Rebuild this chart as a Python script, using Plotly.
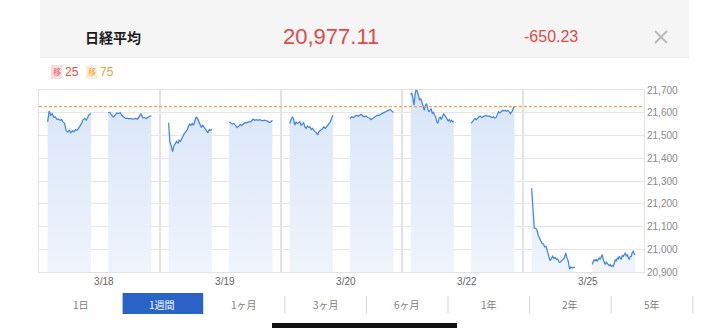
import plotly.graph_objects as go

# ---------------- data ----------------
day_labels = ["3/18", "3/19", "3/20", "3/22", "3/25"]

am_0318 = [21560, 21608, 21589, 21596, 21579, 21582, 21570, 21573, 21567, 21570, 21560, 21553, 21521, 21516, 21523,
           21512, 21521, 21516, 21526, 21523, 21531, 21541, 21553, 21570, 21575, 21567, 21582, 21592, 21596]
pm_0318 = [21601, 21602, 21589, 21582, 21589, 21599, 21596, 21601, 21588, 21579, 21575, 21576, 21573, 21575, 21572,
           21573, 21575, 21572, 21582, 21596, 21579, 21579, 21575, 21582, 21585, 21585]
am_0319 = [21556, 21470, 21455, 21429, 21454, 21465, 21474, 21465, 21480, 21474, 21487, 21502, 21509, 21516, 21523,
           21538, 21550, 21545, 21553, 21545, 21560, 21582, 21575, 21560, 21553, 21535, 21545, 21538, 21531, 21523,
           21512, 21526, 21523, 21526]
pm_0319 = [21560, 21553, 21550, 21553, 21545, 21535, 21541, 21548, 21545, 21553, 21557, 21556, 21560, 21560, 21564,
           21572, 21567, 21570, 21567, 21570, 21567, 21564, 21567, 21566, 21563, 21557, 21560, 21567]
am_0320 = [21553, 21567, 21582, 21575, 21545, 21560, 21553, 21556, 21560, 21545, 21553, 21556, 21538, 21531, 21541,
           21535, 21538, 21526, 21531, 21523, 21516, 21513, 21502, 21516, 21523, 21526, 21531, 21538, 21531, 21541,
           21545, 21553, 21560, 21575, 21589]
pm_0320 = [21575, 21582, 21579, 21585, 21589, 21585, 21588, 21593, 21585, 21582, 21586, 21579, 21577, 21570, 21575,
           21582, 21585, 21589, 21588, 21593, 21596, 21601, 21604, 21607, 21611, 21614, 21608, 21601]
am_0322 = [21681, 21687, 21662, 21633, 21684, 21705, 21691, 21669, 21655, 21662, 21640, 21626, 21611, 21633, 21640,
           21618, 21604, 21611, 21618, 21596, 21604, 21589, 21582, 21560, 21553, 21575, 21582, 21570, 21585, 21596,
           21589, 21579, 21570, 21564, 21570, 21560, 21567, 21560, 21564]
pm_0322 = [21553, 21560, 21567, 21575, 21570, 21579, 21582, 21585, 21579, 21582, 21585, 21588, 21585, 21586, 21585,
           21582, 21579, 21582, 21577, 21579, 21589, 21604, 21599, 21608, 21611, 21608, 21611, 21607, 21611, 21604,
           21596, 21604, 21614, 21628]
am_0325 = [21268, 21159, 21093, 21093, 21086, 21061, 21050, 21039, 21025, 21023, 21010, 21013, 20988, 20969, 20950,
           20959, 20969, 20960, 20963, 20955, 20957, 20943, 20943, 20952, 20955, 20962, 20984, 20962, 20947, 20912,
           20922, 20918, 20921, 20921]
pm_0325 = [20933, 20947, 20955, 20947, 20957, 20947, 20955, 20962, 20955, 20972, 20977, 20955, 20940, 20933, 20943,
           20937, 20933, 20928, 20933, 20925, 20928, 20925, 20937, 20955, 20947, 20962, 20957, 20969, 20962, 20955,
           20972, 20969, 20977, 20984, 20969, 20977, 20962, 20955, 20969, 20969, 20987, 20991, 20977, 20977]

sessions = [(am_0318, pm_0318), (am_0319, pm_0319), (am_0320, pm_0320), (am_0322, pm_0322), (am_0325, pm_0325)]

y_ticks = [20900, 21000, 21100, 21200, 21300, 21400, 21500, 21600, 21700]
prev_close = 21627.34
last_price = 20977.11
change = -650.23
index_name = "日経平均"
ma_labels = ["25", "75"]
period_buttons = ["1日", "1週間", "1ヶ月", "3ヶ月", "6ヶ月", "1年", "2年", "5年"]
active_button = "1週間"

# ---------------- layout geometry ----------------
W, H = 728, 336
L, R, T, B = 39, 84, 90, 64
PW, PH = W - L - R, H - T - B


def fx(px):
    return (px - L) / PW


def fy(py):
    return (H - B - py) / PH


HOURS_PER_DAY = 7.0   # 8:30 .. 15:30 shown per day
AM_START, PM_START, SESSION_LEN = 0.5, 4.0, 2.5

LINE_COLOR = "#4187e2"
RED = "#e04a48"
GRID = "#e6e6e6"

fig = go.Figure()

for di, (am, pm) in enumerate(sessions):
    for start, vals in ((AM_START, am), (PM_START, pm)):
        n = len(vals)
        xs = [di * HOURS_PER_DAY + start + SESSION_LEN * i / (n - 1) for i in range(n)]
        fig.add_trace(go.Scatter(
            x=xs, y=vals, mode="lines",
            line=dict(color=LINE_COLOR, width=1.25),
            fill="tozeroy",
            fillgradient=dict(type="vertical",
                              colorscale=[[0, "#eff4fc"], [1, "#d8e5f8"]],
                              start=y_ticks[0], stop=y_ticks[-1]),
            hoverinfo="skip", showlegend=False,
        ))

n_days = len(day_labels)
fig.update_xaxes(
    range=[0, n_days * HOURS_PER_DAY],
    tickmode="array",
    tickvals=[d * HOURS_PER_DAY + 3.75 for d in range(n_days)],
    ticktext=day_labels,
    showgrid=False,
    minor=dict(tickmode="array", tickvals=[d * HOURS_PER_DAY for d in range(1, n_days)],
               showgrid=True, gridcolor="#e3e3e3", gridwidth=1.6, ticks=""),
    showline=True, mirror=True, linecolor="#e3e3e3", linewidth=1,
    zeroline=False, ticks="",
    tickfont=dict(size=10, color="#666666", family="Liberation Sans, Arial"),
    fixedrange=True,
)
fig.update_yaxes(
    range=[y_ticks[0], y_ticks[-1]],
    tickmode="array", tickvals=y_ticks,
    ticktext=[f"{v:,}" for v in y_ticks],
    side="right",
    showgrid=True, gridcolor=GRID, gridwidth=1,
    showline=True, mirror=True, linecolor="#e3e3e3", linewidth=1,
    zeroline=False, ticks="",
    tickfont=dict(size=10, color="#8a8a8a", family="Liberation Sans, Arial"),
    fixedrange=True,
)

shapes = []
# previous close reference line
shapes.append(dict(type="line", xref="paper", yref="y", x0=0, x1=1, y0=prev_close, y1=prev_close,
                   line=dict(color="#f5a24a", width=1.3, dash="3px,2px"), layer="above"))
# header background
shapes.append(dict(type="rect", xref="paper", yref="paper", x0=fx(40), x1=fx(689), y0=fy(57), y1=fy(-2),
                   fillcolor="#f5f5f5", line=dict(width=0), layer="below"))
shapes.append(dict(type="line", xref="paper", yref="paper", x0=fx(40), x1=fx(689), y0=fy(57.5), y1=fy(57.5),
                   line=dict(color="#ececec", width=1)))
# close "x"
for (a, b2, c, d) in ((655, 31, 667, 43), (655, 43, 667, 31)):
    shapes.append(dict(type="line", xref="paper", yref="paper", x0=fx(a), y0=fy(b2), x1=fx(c), y1=fy(d),
                       line=dict(color="#b8b8b8", width=1.8)))
# legend badges
shapes.append(dict(type="rect", xref="paper", yref="paper", x0=fx(51), x1=fx(62), y0=fy(79), y1=fy(65),
                   fillcolor="#fadcdc", line=dict(width=0)))
shapes.append(dict(type="rect", xref="paper", yref="paper", x0=fx(86), x1=fx(97), y0=fy(79), y1=fy(65),
                   fillcolor="#fdeed6", line=dict(width=0)))
# period buttons
btn_left, btn_w = 40, 81.6
for i, lab in enumerate(period_buttons):
    x0 = btn_left + i * btn_w
    if lab == active_button:
        shapes.append(dict(type="rect", xref="paper", yref="paper", x0=fx(x0 + 1), x1=fx(x0 + btn_w),
                           y0=fy(314), y1=fy(293), fillcolor="#2a63c6", line=dict(width=0)))
    elif i >= 2:
        xs_ = x0 + btn_w
        shapes.append(dict(type="line", xref="paper", yref="paper", x0=fx(xs_), x1=fx(xs_),
                           y0=fy(313), y1=fy(296), line=dict(color="#d4d4d4", width=1)))
# home indicator
shapes.append(dict(type="rect", xref="paper", yref="paper", x0=fx(272), x1=fx(457), y0=fy(328), y1=fy(323),
                   fillcolor="#111111", line=dict(width=0)))

ann = []
CJK = "Noto Sans CJK JP"
ann.append(dict(text=f"<b>{index_name}</b>", x=fx(113), y=fy(37), font=dict(size=14, color="#1c1c1c", family=CJK)))
ann.append(dict(text=f"{last_price:,.2f}", x=fx(331), y=fy(37), font=dict(size=22, color=RED, family="Liberation Sans, Arial")))
ann.append(dict(text=f"{change:,.2f}", x=fx(551), y=fy(37), font=dict(size=16, color=RED, family="Liberation Sans, Arial")))
ann.append(dict(text="移", x=fx(56.5), y=fy(72), font=dict(size=8, color="#e06060", family=CJK)))
ann.append(dict(text=ma_labels[0], x=fx(71.5), y=fy(72), font=dict(size=12, color="#e8503e", family="Liberation Sans, Arial")))
ann.append(dict(text="移", x=fx(91.5), y=fy(72), font=dict(size=8, color="#eea040", family=CJK)))
ann.append(dict(text=ma_labels[1], x=fx(106.5), y=fy(72), font=dict(size=12, color="#f3a13a", family="Liberation Sans, Arial")))
for i, lab in enumerate(period_buttons):
    cx = btn_left + i * btn_w + btn_w / 2
    col = "#ffffff" if lab == active_button else "#808080"
    ann.append(dict(text=lab, x=fx(cx), y=fy(304), font=dict(size=10, color=col, family=CJK)))
for a in ann:
    a.update(xref="paper", yref="paper", showarrow=False, xanchor="center", yanchor="middle")

fig.update_layout(
    width=W, height=H,
    margin=dict(l=L, r=R, t=T, b=B, pad=0),
    paper_bgcolor="white", plot_bgcolor="white",
    shapes=shapes, annotations=ann,
    showlegend=False,
)

fig.write_html("out.html", config={"displayModeBar": False})
